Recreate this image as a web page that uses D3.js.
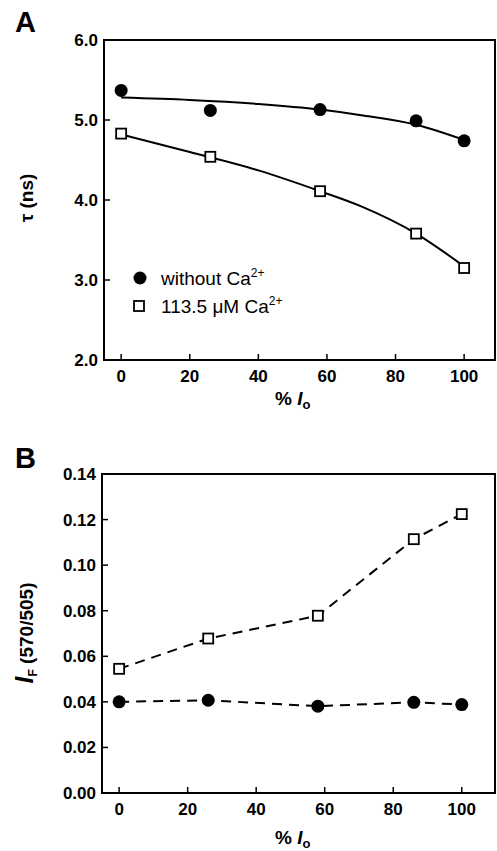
<!DOCTYPE html>
<html>
<head>
<meta charset="utf-8">
<script src="https://cdn.jsdelivr.net/npm/d3@7"></script>
<style>
	body { margin: 0; background: #fff; }
	text { font-family: "Liberation Sans", Arial, sans-serif; fill: #000; }
	.tick-label { font-size: 17px; font-weight: bold; }
	.axis-label { font-size: 19px; font-weight: bold; }
	.legend text { font-size: 19px; }
</style>
</head>
<body>
<div id="chart"></div>
<script>
//x values (% Io) shared by both panels
var xVals = [0, 26, 58, 86, 100];

//Panel A: lifetime tau (ns)
var tauNoCa = [5.37, 5.12, 5.13, 4.99, 4.74];
var tauCa = [4.83, 4.54, 4.11, 3.58, 3.15];
//fitted curves
var fitX = [0, 20, 40, 58, 70, 86, 100];
var fitNoCa = [5.28, 5.25, 5.20, 5.13, 5.06, 4.94, 4.75];
var fitCa = [4.82, 4.60, 4.37, 4.11, 3.92, 3.58, 3.17];
var yTicksA = [2.0, 3.0, 4.0, 5.0, 6.0];

//Panel B: intensity ratio IF (570/505)
var ratioNoCa = [0.040, 0.0407, 0.0381, 0.0398, 0.0388];
var ratioCa = [0.0545, 0.0678, 0.0778, 0.1114, 0.1224];
var yTicksB = [0.00, 0.02, 0.04, 0.06, 0.08, 0.10, 0.12, 0.14];

var xTicks = [0, 20, 40, 60, 80, 100];

var svg = d3.select('#chart')
	.append('svg')
	.attr('width', 497)
	.attr('height', 851);

//draws the frame, inward ticks and labels of one panel
var drawFrame = function(box, x, y, yTicks, yFmt) {
	var g = svg.append('g');
	g.append('rect')
		.attr('x', box.left)
		.attr('y', box.top)
		.attr('width', box.right - box.left)
		.attr('height', box.bottom - box.top)
		.attr('fill', 'none')
		.attr('stroke', '#000')
		.attr('stroke-width', 2);

	//x ticks point up into the plot
	g.selectAll('.xt')
		.data(xTicks)
		.enter()
		.append('line')
		.attr('x1', function(d) { return x(d); })
		.attr('x2', function(d) { return x(d); })
		.attr('y1', box.bottom)
		.attr('y2', box.bottom - 6)
		.attr('stroke', '#000')
		.attr('stroke-width', 1.5);
	g.selectAll('.xl')
		.data(xTicks)
		.enter()
		.append('text')
		.attr('class', 'tick-label')
		.attr('x', function(d) { return x(d); })
		.attr('y', box.bottom + 22)
		.attr('text-anchor', 'middle')
		.text(function(d) { return d; });

	//y ticks point right into the plot
	g.selectAll('.yt')
		.data(yTicks)
		.enter()
		.append('line')
		.attr('x1', box.left)
		.attr('x2', box.left + 6)
		.attr('y1', function(d) { return y(d); })
		.attr('y2', function(d) { return y(d); })
		.attr('stroke', '#000')
		.attr('stroke-width', 1.5);
	g.selectAll('.yl')
		.data(yTicks)
		.enter()
		.append('text')
		.attr('class', 'tick-label')
		.attr('x', box.left - 6)
		.attr('y', function(d) { return y(d) + 6; })
		.attr('text-anchor', 'end')
		.text(function(d) { return yFmt(d); });

	//x axis label: % Io
	var xl = g.append('text')
		.attr('class', 'axis-label')
		.attr('x', 275)
		.attr('y', box.bottom + box.labelGap);
	xl.append('tspan').text('% ');
	xl.append('tspan').attr('font-style', 'italic').text('I');
	xl.append('tspan').attr('font-size', '13px').attr('dy', 4).text('o');
	return g;
};

var drawCircles = function(g, x, y, vals) {
	g.selectAll(null)
		.data(vals)
		.enter()
		.append('circle')
		.attr('cx', function(d, i) { return x(xVals[i]); })
		.attr('cy', function(d) { return y(d); })
		.attr('r', 6.5)
		.attr('fill', '#000');
};

var drawSquares = function(g, x, y, vals) {
	g.selectAll(null)
		.data(vals)
		.enter()
		.append('rect')
		.attr('x', function(d, i) { return x(xVals[i]) - 5; })
		.attr('y', function(d) { return y(d) - 5; })
		.attr('width', 10)
		.attr('height', 10)
		.attr('fill', '#fff')
		.attr('stroke', '#000')
		.attr('stroke-width', 1.8);
};

//---------- Panel A ----------
var boxA = { left: 104, top: 40, right: 495, bottom: 360, labelGap: 45 };
var xA = d3.scaleLinear().domain([-5, 109]).range([boxA.left, boxA.right]);
var yA = d3.scaleLinear().domain([2, 6]).range([boxA.bottom, boxA.top]);
var gA = drawFrame(boxA, xA, yA, yTicksA, d3.format('.1f'));

var fitLine = d3.line()
	.x(function(d) { return xA(d[0]); })
	.y(function(d) { return yA(d[1]); })
	.curve(d3.curveMonotoneX);
[fitNoCa, fitCa].forEach(function(f) {
	gA.append('path')
		.attr('d', fitLine(d3.zip(fitX, f)))
		.attr('fill', 'none')
		.attr('stroke', '#000')
		.attr('stroke-width', 2);
});
drawCircles(gA, xA, yA, tauNoCa);
drawSquares(gA, xA, yA, tauCa);

//y label: tau (ns)
gA.append('text')
	.attr('class', 'axis-label')
	.attr('font-size', '20px')
	.attr('transform', 'translate(33,' + 198 + ') rotate(-90)')
	.attr('text-anchor', 'middle')
	.text('\u03c4 (ns)');

//panel letter
svg.append('text')
	.attr('x', 15)
	.attr('y', 32)
	.attr('font-size', '29px')
	.attr('font-weight', 'bold')
	.text('A');

//legend
var legend = gA.append('g').attr('class', 'legend');
legend.append('circle')
	.attr('cx', 140).attr('cy', 278).attr('r', 6.5).attr('fill', '#000');
legend.append('rect')
	.attr('x', 134).attr('y', 301).attr('width', 10).attr('height', 10)
	.attr('fill', '#fff').attr('stroke', '#000').attr('stroke-width', 1.8);
var l1 = legend.append('text').attr('x', 161).attr('y', 285);
l1.append('tspan').text('without Ca');
l1.append('tspan').attr('font-size', '12px').attr('dy', -8).text('2+');
var l2 = legend.append('text').attr('x', 161).attr('y', 313);
l2.append('tspan').text('113.5 \u03bcM Ca');
l2.append('tspan').attr('font-size', '12px').attr('dy', -8).text('2+');

//---------- Panel B ----------
var boxB = { left: 102, top: 474, right: 495, bottom: 793, labelGap: 51 };
var xB = d3.scaleLinear().domain([-5, 109.7]).range([boxB.left, boxB.right]);
var yB = d3.scaleLinear().domain([0, 0.14]).range([boxB.bottom, boxB.top]);
var gB = drawFrame(boxB, xB, yB, yTicksB, d3.format('.2f'));

var dashLine = d3.line()
	.x(function(d) { return xB(d[0]); })
	.y(function(d) { return yB(d[1]); });
[ratioNoCa, ratioCa].forEach(function(r) {
	gB.append('path')
		.attr('d', dashLine(d3.zip(xVals, r)))
		.attr('fill', 'none')
		.attr('stroke', '#000')
		.attr('stroke-width', 2)
		.attr('stroke-dasharray', '10,7');
});
drawCircles(gB, xB, yB, ratioNoCa);
drawSquares(gB, xB, yB, ratioCa);

//y label: IF (570/505)
var yl = gB.append('text')
	.attr('class', 'axis-label')
	.attr('font-size', '20px')
	.attr('transform', 'translate(33,' + 633 + ') rotate(-90)')
	.attr('text-anchor', 'middle');
yl.append('tspan').attr('font-style', 'italic').attr('font-size', '25px').text('I');
yl.append('tspan').attr('font-size', '12px').attr('dy', 4).text('F');
yl.append('tspan').attr('dy', -4).text(' (570/505)');

svg.append('text')
	.attr('x', 15)
	.attr('y', 468)
	.attr('font-size', '29px')
	.attr('font-weight', 'bold')
	.text('B');
</script>
</body>
</html>
